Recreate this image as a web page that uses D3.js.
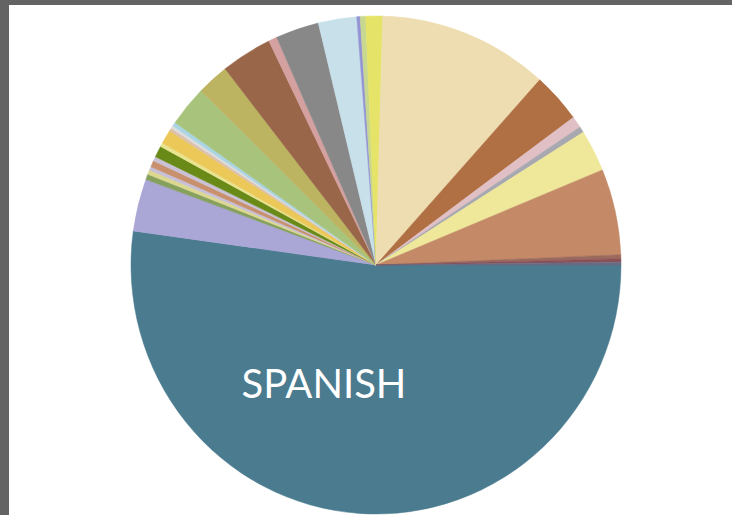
<!DOCTYPE html>
<html>
<head>
<meta charset="utf-8">
<script src="https://cdn.jsdelivr.net/npm/d3@7"></script>
<style>
  html, body { margin: 0; padding: 0; background: #ffffff; }
  svg { display: block; }
</style>
</head>
<body>
<svg id="chart" width="732" height="515"></svg>
<script>
// Categories (only SPANISH is labelled in the original)
const categories = [
  "SPANISH", "Cat 2", "Cat 3", "Cat 4", "Cat 5", "Cat 6", "Cat 7", "Cat 8", "Cat 9",
  "Cat 10", "Cat 11", "Cat 12", "Cat 13", "Cat 14", "Cat 15", "Cat 16", "Cat 17",
  "Cat 18", "Cat 19", "Cat 20", "Cat 21", "Cat 22", "Cat 23", "Cat 24", "Cat 25",
  "Cat 26", "Cat 27", "Cat 28", "Cat 29", "Cat 30", "Cat 31"
];
// Share of each category (percent)
const values = [
  52.2, 3.4, 0.35, 0.29, 0.24, 0.41, 0.29, 0.74, 0.24,
  0.92, 0.19, 0.19, 0.25, 2.64, 2.11, 3.36, 0.56,
  2.86, 2.53, 0.22, 0.36, 1.11, 11.22, 3.25, 0.75,
  0.39, 2.72, 5.58, 0.26, 0.22, 0.18
];
const colors = [
  "#4a7b8f", "#aaa6d6", "#86a05e", "#dcd890", "#c8c0d8", "#c8906c", "#c8c2d4", "#6a8a18", "#e8e490",
  "#ecc858", "#dcc0a8", "#dcdcdc", "#a8d4e4", "#a8c47c", "#bcb460", "#9a664a", "#d4a0a0",
  "#888888", "#c8e0ea", "#9494d4", "#c8d890", "#e6e468", "#efddb2", "#b07044", "#e0c0c4",
  "#a8a8b0", "#efe89a", "#c48a68", "#9c6a5c", "#8a5058", "#6a6a82"
];
const labelled = ["SPANISH"];

const data = categories.map((c, i) => ({ name: c, value: values[i], color: colors[i] }));

const svg = d3.select("#chart");

// window frame (gray border top and left)
svg.append("rect").attr("x", 0).attr("y", 0).attr("width", 732).attr("height", 5).attr("fill", "#646464");
svg.append("rect").attr("x", 0).attr("y", 0).attr("width", 9).attr("height", 515).attr("fill", "#646464");

const cx = 376, cy = 265, r = 245, ry = 249;

const pie = d3.pie()
  .sort(null)
  .value(d => d.value)
  .startAngle(Math.PI / 2)
  .endAngle(Math.PI / 2 + 2 * Math.PI);

const arc = d3.arc().innerRadius(0).outerRadius(r);

const g = svg.append("g")
  .attr("transform", `translate(${cx},${cy}) scale(1,${ry / r})`);

const arcs = pie(data);

g.selectAll("path")
  .data(arcs)
  .join("path")
  .attr("d", arc)
  .attr("fill", d => d.data.color)
  .attr("stroke", d => d.data.color)
  .attr("stroke-width", 0.5);

// label
svg.selectAll("text.lbl")
  .data(arcs.filter(d => labelled.includes(d.data.name)))
  .join("text")
  .attr("class", "lbl")
  .attr("x", cx - 52)
  .attr("y", 398)
  .attr("text-anchor", "middle")
  .attr("fill", "#ffffff")
  .style("font-family", "Lato, 'Open Sans', sans-serif")
  .style("font-size", "40px")
  .text(d => d.data.name);
</script>
</body>
</html>
